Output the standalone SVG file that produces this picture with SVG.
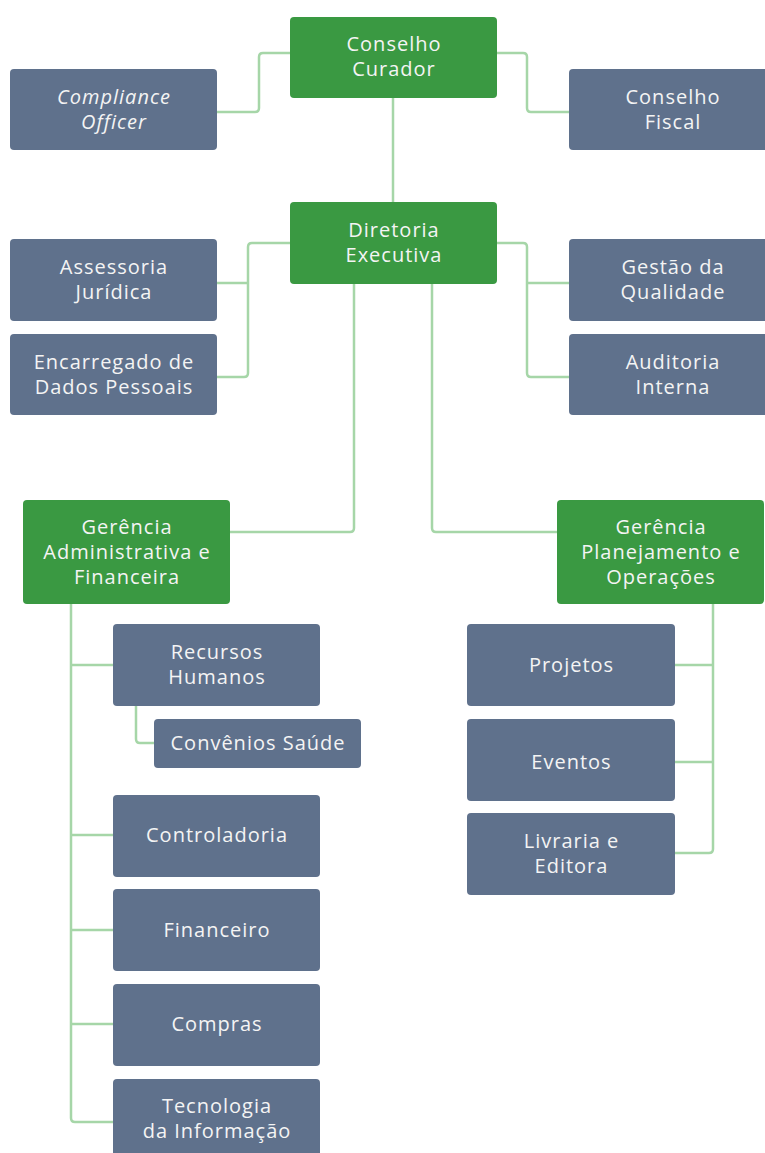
<svg xmlns="http://www.w3.org/2000/svg" width="765" height="1153" viewBox="0 0 765 1153">
<style>
.g{fill:#3a9942}
.b{fill:#5f718c}
text{font-family:"Open Sans","Noto Sans",sans-serif;font-size:20px;letter-spacing:1px;fill:#f4f4f4;text-anchor:middle}
.c{fill:none;stroke:#a6d6a8;stroke-width:2.5;stroke-linejoin:round}
</style>
<rect width="765" height="1153" fill="#ffffff"/>
<g id="connectors">
<path class="c" d="M290,53 H263 Q259,53 259,57 V108 Q259,112 255,112 H217"/>
<path class="c" d="M497,53 H523 Q527,53 527,57 V108 Q527,112 531,112 H569"/>
<path class="c" d="M393,98 V202"/>
<path class="c" d="M290,243 H252 Q248,243 248,247 V373 Q248,377 244,377 H217 M248,283 H217"/>
<path class="c" d="M497,243 H523 Q527,243 527,247 V373 Q527,377 531,377 H569 M527,283 H569"/>
<path class="c" d="M354,284 V528 Q354,532 350,532 H230"/>
<path class="c" d="M432,284 V528 Q432,532 436,532 H557"/>
<path class="c" d="M71,604 V1118 Q71,1122 75,1122 H113 M71,665 H113 M71,835 H113 M71,930 H113 M71,1024 H113"/>
<path class="c" d="M136,706 V739 Q136,743 140,743 H154"/>
<path class="c" d="M713,604 V849 Q713,853 709,853 H675 M713,665 H675 M713,762 H675"/>
</g>
<g id="conselho-curador"><rect class="g" x="290" y="17" width="207" height="81" rx="4"/><text x="394" y="51">Conselho</text><text x="394" y="76">Curador</text></g>
<g id="compliance-officer"><rect class="b" x="10" y="69" width="207" height="81" rx="4"/><text x="114" y="103.5" font-style="italic">Compliance</text><text x="114" y="128.5" font-style="italic">Officer</text></g>
<g id="conselho-fiscal"><rect class="b" x="569" y="69" width="207" height="81" rx="4"/><text x="673" y="103.5">Conselho</text><text x="673" y="128.5">Fiscal</text></g>
<g id="diretoria-executiva"><rect class="g" x="290" y="202" width="207" height="82" rx="4"/><text x="394" y="237">Diretoria</text><text x="394" y="262">Executiva</text></g>
<g id="assessoria-juridica"><rect class="b" x="10" y="239" width="207" height="82" rx="4"/><text x="114" y="274">Assessoria</text><text x="114" y="299">Jurídica</text></g>
<g id="encarregado-dados"><rect class="b" x="10" y="334" width="207" height="81" rx="4"/><text x="114" y="368.5">Encarregado de</text><text x="114" y="393.5">Dados Pessoais</text></g>
<g id="gestao-qualidade"><rect class="b" x="569" y="239" width="207" height="82" rx="4"/><text x="673" y="274">Gestão da</text><text x="673" y="299">Qualidade</text></g>
<g id="auditoria-interna"><rect class="b" x="569" y="334" width="207" height="81" rx="4"/><text x="673" y="368.5">Auditoria</text><text x="673" y="393.5">Interna</text></g>
<g id="gerencia-adm"><rect class="g" x="23" y="500" width="207" height="104" rx="4"/><text x="127" y="533.5">Gerência</text><text x="127" y="558.5">Administrativa e</text><text x="127" y="583.5">Financeira</text></g>
<g id="gerencia-plan"><rect class="g" x="557" y="500" width="207" height="104" rx="4"/><text x="661" y="533.5">Gerência</text><text x="661" y="558.5">Planejamento e</text><text x="661" y="583.5">Operações</text></g>
<g id="recursos-humanos"><rect class="b" x="113" y="624" width="207" height="82" rx="4"/><text x="217" y="659">Recursos</text><text x="217" y="684">Humanos</text></g>
<g id="convenios-saude"><rect class="b" x="154" y="719" width="207" height="49" rx="4"/><text x="258" y="750">Convênios Saúde</text></g>
<g id="controladoria"><rect class="b" x="113" y="795" width="207" height="82" rx="4"/><text x="217" y="842">Controladoria</text></g>
<g id="financeiro"><rect class="b" x="113" y="889" width="207" height="82" rx="4"/><text x="217" y="937">Financeiro</text></g>
<g id="compras"><rect class="b" x="113" y="984" width="207" height="82" rx="4"/><text x="217" y="1031">Compras</text></g>
<g id="tecnologia"><rect class="b" x="113" y="1079" width="207" height="82" rx="4"/><text x="217" y="1113">Tecnologia</text><text x="217" y="1138">da Informação</text></g>
<g id="projetos"><rect class="b" x="467" y="624" width="208" height="82" rx="4"/><text x="571.5" y="672">Projetos</text></g>
<g id="eventos"><rect class="b" x="467" y="719" width="208" height="82" rx="4"/><text x="571.5" y="769">Eventos</text></g>
<g id="livraria"><rect class="b" x="467" y="813" width="208" height="82" rx="4"/><text x="571.5" y="848">Livraria e</text><text x="571.5" y="873">Editora</text></g>
</svg>
